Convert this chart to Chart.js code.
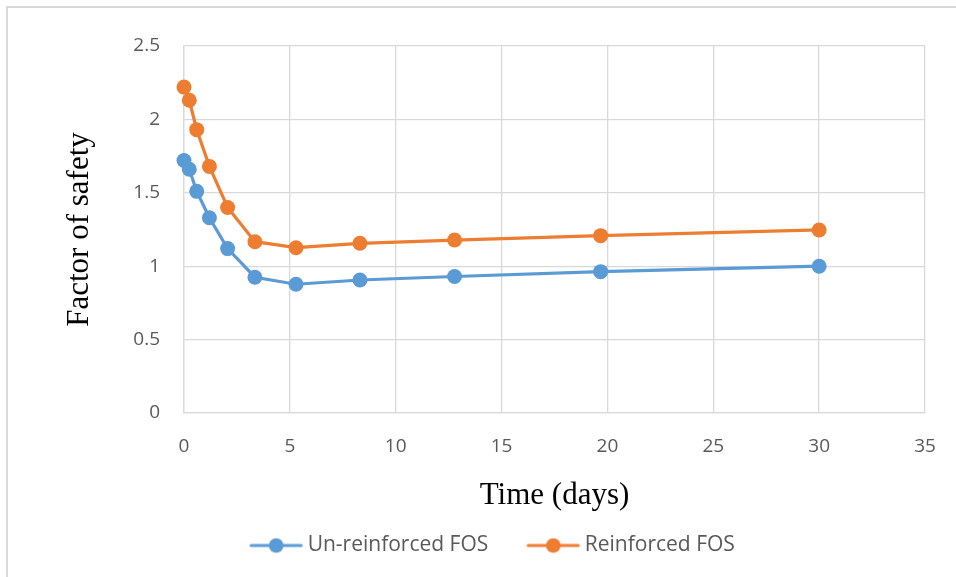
<!DOCTYPE html>
<html>
<head>
<meta charset="utf-8">
<script src="https://cdn.jsdelivr.net/npm/chart.js@4.4.1/dist/chart.umd.min.js"></script>
<style>
  html, body { margin: 0; padding: 0; background: #ffffff; }
  #wrap { position: relative; width: 956px; height: 577px; overflow: hidden; }
  #frame { position: absolute; left: 6px; top: 6px; width: 1200px; height: 1200px; border-left: 2px solid #d9d9d9; border-top: 2px solid #d9d9d9; }
  canvas { position: absolute; left: 0; top: 0; }
</style>
</head>
<body>
<div id="wrap">
  <div id="frame"></div>
  <canvas id="c" width="956" height="577"></canvas>
</div>
<script>
// Data
const timeDays = [0, 0.25, 0.6, 1.2, 2.06, 3.35, 5.29, 8.31, 12.78, 19.68, 30];
const unreinforcedFOS = [1.72, 1.66, 1.51, 1.33, 1.12, 0.925, 0.877, 0.906, 0.93, 0.963, 1.0];
const reinforcedFOS = [2.22, 2.13, 1.93, 1.68, 1.40, 1.167, 1.126, 1.156, 1.178, 1.208, 1.247];
const seriesNames = ["Un-reinforced FOS", "Reinforced FOS"];
const xTitle = "Time (days)";
const yTitle = "Factor of safety";

const BLUE = "#5B9BD5";
const ORANGE = "#ED7D31";

// legend marker: line with a dot, placed at the right side of a wider transparent image
const MARK_BOX = 76;   // legend box width
const MARK_IMG = 88;   // image width
function legendMarker(color) {
  const cv = document.createElement("canvas");
  cv.width = MARK_IMG; cv.height = 16;
  const g = cv.getContext("2d");
  const x0 = MARK_IMG - 54;
  g.strokeStyle = color; g.lineWidth = 3.2; g.lineCap = "round";
  g.beginPath(); g.moveTo(x0 + 2, 8); g.lineTo(x0 + 52, 8); g.stroke();
  g.fillStyle = color;
  g.beginPath(); g.arc(x0 + 27, 8, 7.3, 0, Math.PI * 2); g.fill();
  return cv;
}

const toPts = (xs, ys) => xs.map((x, i) => ({ x: x, y: ys[i] }));

const ctx = document.getElementById("c").getContext("2d");
new Chart(ctx, {
  type: "line",
  data: {
    datasets: [
      {
        label: seriesNames[0],
        data: toPts(timeDays, unreinforcedFOS),
        borderColor: BLUE, backgroundColor: BLUE,
        borderWidth: 3.2, pointRadius: 7.5, pointHoverRadius: 7.5,
        pointBorderWidth: 0, tension: 0, clip: false,
        pointStyle: "circle", legendMarker: legendMarker(BLUE)
      },
      {
        label: seriesNames[1],
        data: toPts(timeDays, reinforcedFOS),
        borderColor: ORANGE, backgroundColor: ORANGE,
        borderWidth: 3.2, pointRadius: 7.5, pointHoverRadius: 7.5,
        pointBorderWidth: 0, tension: 0, clip: false,
        pointStyle: "circle", legendMarker: legendMarker(ORANGE)
      }
    ]
  },
  options: {
    responsive: false,
    animation: false,
    layout: { padding: { top: 46, right: 0, left: 0, bottom: 11 } },
    plugins: {
      tooltip: { enabled: false },
      legend: {
        position: "bottom",
        labels: {
          color: "#595959",
          font: { family: "'Open Sans', sans-serif", size: 21 },
          usePointStyle: true,
          pointStyleWidth: MARK_BOX,
          boxHeight: 16,
          padding: 10,
          generateLabels: (chart) => chart.data.datasets.map((ds, i) => ({
            text: ds.label,
            fillStyle: ds.borderColor,
            strokeStyle: ds.borderColor,
            lineWidth: 0,
            pointStyle: ds.legendMarker,
            hidden: false,
            datasetIndex: i,
            fontColor: "#595959"
          }))
        }
      }
    },
    scales: {
      x: {
        type: "linear",
        min: 0, max: 35,
        afterFit: (s) => { s.height = 112; s.paddingLeft = 0; s.paddingRight = 0; },
        ticks: {
          stepSize: 5, color: "#595959", padding: 22,
          font: { family: "'Open Sans', sans-serif", size: 19 },
          maxRotation: 0
        },
        grid: { color: "#d9d9d9", lineWidth: 1.3, drawTicks: false },
        border: { color: "#d9d9d9", width: 1.3 },
        title: {
          display: true, text: xTitle, color: "#000000",
          font: { family: "'Liberation Serif', 'Times New Roman', serif", size: 31 },
          padding: { top: 0, bottom: 11 }
        }
      },
      y: {
        type: "linear",
        min: 0, max: 2.5,
        afterFit: (s) => { s.width = 184; s.paddingTop = 0; s.paddingBottom = 0; },
        ticks: {
          stepSize: 0.5, color: "#595959", padding: 24,
          font: { family: "'Open Sans', sans-serif", size: 19 },
          callback: (v) => String(v)
        },
        grid: { color: "#d9d9d9", lineWidth: 1.3, drawTicks: false },
        border: { color: "#d9d9d9", width: 1.3 },
        title: {
          display: true, text: yTitle, color: "#000000",
          font: { family: "'Liberation Serif', 'Times New Roman', serif", size: 31 },
          padding: { top: 61, bottom: 0 }
        }
      },
      rightSpace: {
        type: "linear",
        position: "right",
        display: true,
        afterFit: (s) => { s.width = 31; },
        grid: { display: false, drawTicks: false },
        border: { display: false },
        ticks: { display: false }
      }
    }
  }
});
</script>
</body>
</html>
